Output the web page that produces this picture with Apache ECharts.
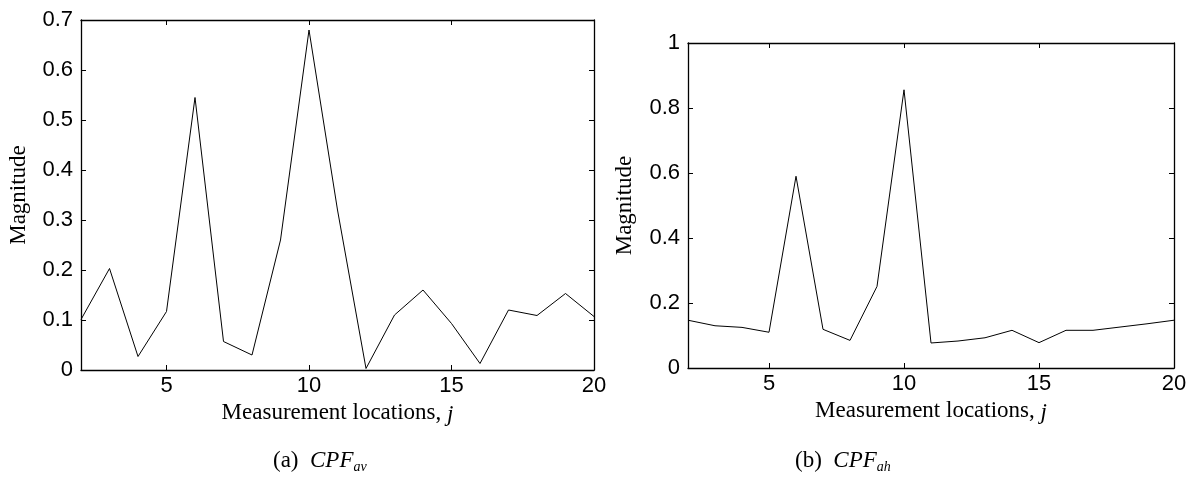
<!DOCTYPE html>
<html>
<head>
<meta charset="utf-8">
<script src="https://cdn.jsdelivr.net/npm/echarts@6/dist/echarts.min.js"></script>
<style>
  html, body { margin: 0; padding: 0; background: #fff; }
  #chart { width: 1199px; height: 477px; }
</style>
</head>
<body>
<div id="chart"></div>
<script>
// Measurement locations j = 2 .. 20
const locations = [2, 3, 4, 5, 6, 7, 8, 9, 10, 11, 12, 13, 14, 15, 16, 17, 18, 19, 20];
// (a) CPF_av magnitudes
const cpfAv = [0.101, 0.203, 0.027, 0.117, 0.545, 0.057, 0.030, 0.26, 0.68, 0.32,
               0.003, 0.11, 0.16, 0.093, 0.013, 0.12, 0.109, 0.153, 0.107];
// (b) CPF_ah magnitudes
const cpfAh = [0.147, 0.130, 0.125, 0.110, 0.59, 0.119, 0.085, 0.251, 0.856, 0.077,
               0.083, 0.093, 0.116, 0.078, 0.116, 0.116, 0.126, 0.136, 0.147];
const xTicks = [5, 10, 15, 20];
const yTicksA = [0, 0.1, 0.2, 0.3, 0.4, 0.5, 0.6, 0.7];
const yTicksB = [0, 0.2, 0.4, 0.6, 0.8, 1];

const sans = 'Liberation Sans';
const serif = 'Liberation Serif';
const ink = '#000';

function pairs(xs, ys) { return xs.map((x, i) => [x, ys[i]]); }

function xAxisDef(gridIndex, position, withLabels) {
  return {
    type: 'value', gridIndex, position, min: 2, max: 20,
    axisLine: { show: true, onZero: false, lineStyle: { color: ink, width: 1.3 } },
    axisTick: { show: true, inside: true, length: 5, customValues: xTicks, lineStyle: { color: ink, width: 1 } },
    axisLabel: withLabels ? { show: true, customValues: xTicks, margin: 5, color: ink, fontFamily: sans, fontSize: 22 } : { show: false },
    splitLine: { show: false },
    name: withLabels ? '{t|Measurement locations, }{j|j}' : '',
    nameLocation: 'middle', nameGap: 22,
    nameTextStyle: {
      rich: {
        t: { fontFamily: serif, fontSize: 23, color: ink },
        j: { fontFamily: serif, fontSize: 23, fontStyle: 'italic', color: ink, padding: [4, 0, 0, 0] }
      }
    }
  };
}

function yAxisDef(gridIndex, position, max, interval, withLabels, gap) {
  return {
    type: 'value', gridIndex, position, min: 0, max, interval,
    axisLine: { show: true, onZero: false, lineStyle: { color: ink, width: 1.3 } },
    axisTick: { show: true, inside: true, length: 5, lineStyle: { color: ink, width: 1 } },
    axisLabel: withLabels ? {
      show: true, margin: 8, color: ink, fontFamily: sans, fontSize: 22,
      formatter: v => String(Math.round(v * 10) / 10)
    } : { show: false },
    splitLine: { show: false },
    name: withLabels ? 'Magnitude' : '',
    nameLocation: 'middle', nameGap: gap,
    nameTextStyle: { fontFamily: serif, fontSize: 23, color: ink }
  };
}

function caption(letter, sub, left) {
  return {
    left, top: 442,
    text: '{p|(' + letter + ')  }{c|CPF}{s|' + sub + '}',
    textStyle: {
      fontWeight: 'normal',
      rich: {
        p: { fontFamily: serif, fontSize: 23, fontWeight: 'normal', color: ink },
        c: { fontFamily: serif, fontSize: 23, fontWeight: 'normal', fontStyle: 'italic', color: ink },
        s: { fontFamily: serif, fontSize: 14, fontWeight: 'normal', fontStyle: 'italic', color: ink, padding: [13, 0, 0, 0] }
      }
    }
  };
}

const chart = echarts.init(document.getElementById('chart'), null, { renderer: 'canvas' });
chart.setOption({
  backgroundColor: '#fff',
  animation: false,
  title: [caption('a', 'av', 268), caption('b', 'ah', 790)],
  grid: [
    { left: 81, top: 20, width: 513, height: 350 },
    { left: 688, top: 43, width: 486, height: 325 }
  ],
  xAxis: [
    xAxisDef(0, 'bottom', true),
    xAxisDef(0, 'top', false),
    xAxisDef(1, 'bottom', true),
    xAxisDef(1, 'top', false)
  ],
  yAxis: [
    yAxisDef(0, 'left', 0.7, 0.1, true, 51),
    yAxisDef(0, 'right', 0.7, 0.1, false, 0),
    yAxisDef(1, 'left', 1, 0.2, true, 52),
    yAxisDef(1, 'right', 1, 0.2, false, 0)
  ],
  series: [
    {
      type: 'line', xAxisIndex: 0, yAxisIndex: 0, data: pairs(locations, cpfAv),
      showSymbol: false, lineStyle: { color: ink, width: 1 }, clip: true
    },
    {
      type: 'line', xAxisIndex: 2, yAxisIndex: 2, data: pairs(locations, cpfAh),
      showSymbol: false, lineStyle: { color: ink, width: 1 }, clip: true
    }
  ]
});
</script>
</body>
</html>
